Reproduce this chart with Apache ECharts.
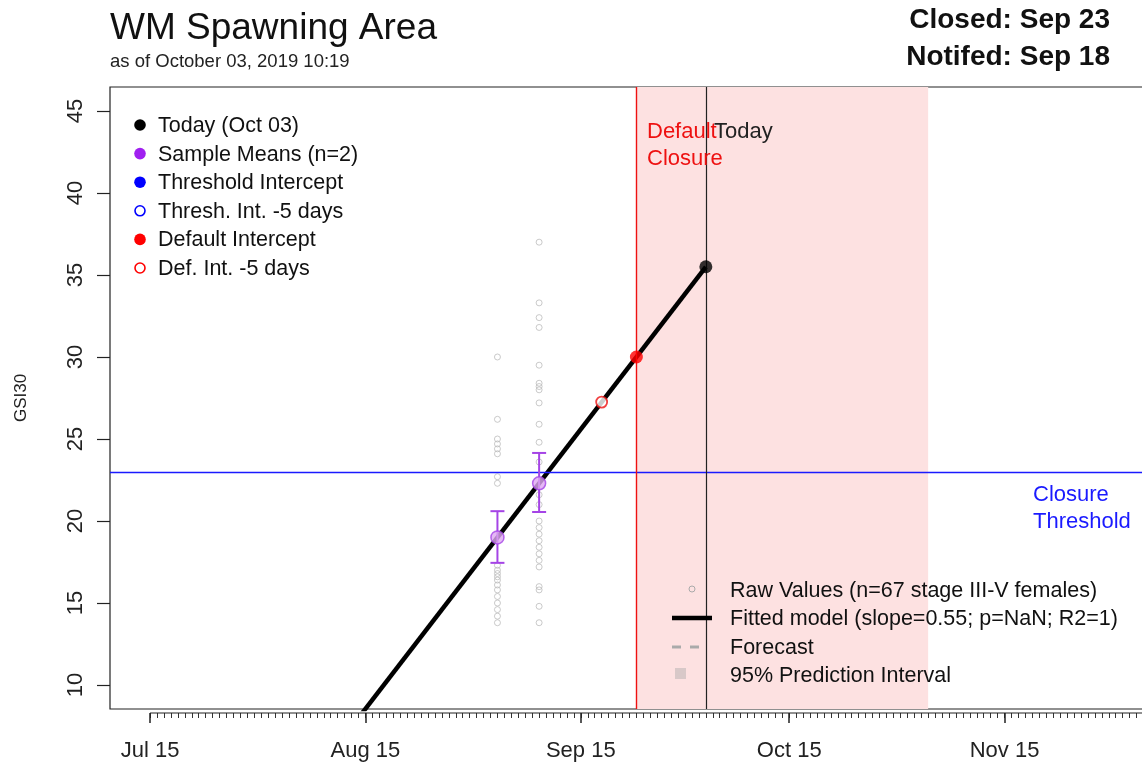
<!DOCTYPE html>
<html><head><meta charset="utf-8">
<script src="https://cdn.jsdelivr.net/npm/echarts@6/dist/echarts.min.js"></script>
<style>html,body{margin:0;padding:0;background:#fff;overflow:hidden}#c{width:1172px;height:767px}</style>
</head><body><div id="c"></div>
<script>
// ---------- data ----------
const axisBase = '2019-07-15';
const tickDates = ['2019-07-15','2019-08-15','2019-09-15','2019-10-15','2019-11-15'];
const tickLabels = ['Jul 15','Aug 15','Sep 15','Oct 15','Nov 15'];
const yTicks = [10,15,20,25,30,35,40,45];
const sampleDates = ['2019-09-03','2019-09-09'];
const sampleMeans = [19.0, 22.3];
const sampleLow = [17.45, 20.55];
const sampleHigh = [20.6, 24.15];
const rawSep03 = [30.0, 26.2, 25.0, 24.7, 24.4, 24.1, 22.7, 22.3, 17.3, 17.0, 16.8, 16.6, 16.4, 16.1, 15.8, 15.4, 15.0, 14.6, 14.2, 13.8];
const rawSep09 = [37.0, 33.3, 32.4, 31.8, 29.5, 28.4, 28.2, 28.0, 27.2, 25.9, 24.8, 23.6, 21.6, 21.0, 20.0, 19.6, 19.2, 18.8, 18.4, 18.0, 17.6, 17.2, 16.0, 15.8, 14.8, 13.8];
const fitDates = ['2019-08-01','2019-10-03'];
const fitValues = [0.85, 35.5];
const todayDate = '2019-10-03', todayValue = 35.5;
const defaultDate = '2019-09-23', defaultValue = 30.0;
const defMinus5Date = '2019-09-18', defMinus5Value = 27.25;
const thresholdValue = 23;
const bandStart = '2019-09-23', bandEnd = '2019-11-04';
const xRange = ['2019-07-09', '2019-12-09'];
const yRange = [8.54, 46.46];

// ---------- helpers ----------
function dayNum(s){
  const [y,m,d] = s.split('-').map(Number);
  const [by,bm,bd] = axisBase.split('-').map(Number);
  return (Date.UTC(y,m-1,d) - Date.UTC(by,bm-1,bd)) / 86400000;
}
const FONT = '"Liberation Sans", Arial, sans-serif';
const X_MIN = dayNum(xRange[0]) + 0.23;
const X_MAX = dayNum(xRange[1]) + 0.1;
const minorTicks = [];
for (let d = 0; d <= X_MAX; d++) minorTicks.push(d);
const majorTicks = tickDates.map(dayNum);

const rawData = rawSep03.map(v => [dayNum(sampleDates[0]), v])
  .concat(rawSep09.map(v => [dayNum(sampleDates[1]), v]));

const chart = echarts.init(document.getElementById('c'), null, {renderer:'canvas'});

const option = {
  backgroundColor: '#fff',
  animation: false,
  grid: {left: 110, top: 87, right: 0, bottom: 58, show: true, borderColor: '#222', borderWidth: 1.2,
         backgroundColor: 'transparent', outerBoundsMode: 'none'},
  xAxis: [
    {type:'value', min: X_MIN, max: X_MAX, position:'bottom', offset: 4,
     axisLine:{show:false, onZero:false}, splitLine:{show:false},
     axisTick:{show:true, customValues: minorTicks, length: 5, lineStyle:{color:'#333', width:1}},
     axisLabel:{show:false}},
    {type:'value', min: X_MIN, max: X_MAX, position:'bottom', offset: 4,
     axisLine:{show:false, onZero:false}, splitLine:{show:false},
     axisTick:{show:true, customValues: majorTicks, length: 10, lineStyle:{color:'#222', width:1.5}},
     axisLabel:{show:true, customValues: majorTicks, margin: 27, fontFamily: FONT, fontSize: 22, color:'#222',
       formatter: v => tickLabels[majorTicks.indexOf(Math.round(v))] || ''}}
  ],
  yAxis: {type:'value', min: yRange[0], max: yRange[1],
    axisLine:{show:false, onZero:false}, splitLine:{show:false},
    axisTick:{show:true, customValues: yTicks, length: 13, lineStyle:{color:'#222', width:1.2}},
    axisLabel:{show:true, customValues: yTicks, rotate: 90, margin: 23, fontFamily: FONT, fontSize: 22, color:'#222'},
    name:'GSI30', nameLocation:'middle', nameRotate: 90, nameGap: 80,
    nameTextStyle:{fontFamily: FONT, fontSize: 17, color:'#222'}},
  series: [
    {type:'line', data: [], z: 1,
     markArea:{silent:true, itemStyle:{color:'#fde1e1'},
       data:[[{xAxis: dayNum(bandStart)}, {xAxis: dayNum(bandEnd)}]]}},
    {type:'scatter', name:'raw', data: rawData, symbol:'circle', symbolSize: 6, z: 2,
     itemStyle:{color:'rgba(255,255,255,0)', borderColor:'#bdbdbd', borderWidth:1}},
    {type:'line', data: [], z: 3,
     markLine:{silent:true, symbol:'none', label:{show:false},
       data:[
         {yAxis: thresholdValue, lineStyle:{color:'#1a1aff', width:1.4, type:'solid'}},
         {xAxis: dayNum(defaultDate), lineStyle:{color:'#ee1111', width:1.4, type:'solid'}},
         {xAxis: dayNum(todayDate), lineStyle:{color:'#222', width:1.2, type:'solid'}}
       ]}},
    {type:'line', name:'fit', data: fitDates.map((d,i)=>[dayNum(d), fitValues[i]]), z: 4,
     clip: true, symbol:'none', lineStyle:{color:'#000', width:4.5}},
    {type:'custom', name:'err', z: 5, clip: true,
     data: sampleDates.map((d,i)=>[dayNum(d), sampleLow[i], sampleHigh[i]]),
     renderItem: function(params, api){
       const x = api.value(0);
       const lo = api.coord([x, api.value(1)]);
       const hi = api.coord([x, api.value(2)]);
       const hw = 7;
       const st = {stroke:'#a544e6', lineWidth: 2};
       return {type:'group', children:[
         {type:'line', shape:{x1:lo[0], y1:lo[1], x2:hi[0], y2:hi[1]}, style: st},
         {type:'line', shape:{x1:lo[0]-hw, y1:lo[1], x2:lo[0]+hw, y2:lo[1]}, style: st},
         {type:'line', shape:{x1:hi[0]-hw, y1:hi[1], x2:hi[0]+hw, y2:hi[1]}, style: st}
       ]};
     }},
    {type:'scatter', name:'means', z: 6, data: sampleDates.map((d,i)=>[dayNum(d), sampleMeans[i]]),
     symbolSize: 13, itemStyle:{color:'#dfa8f2', borderColor:'#a544e6', borderWidth:1.5}},
    {type:'scatter', name:'defm5', z: 6, data: [[dayNum(defMinus5Date), defMinus5Value]],
     symbolSize: 11, itemStyle:{color:'#fff', borderColor:'#ee1111', borderWidth:1.8}},
    {type:'scatter', name:'default', z: 6, data: [[dayNum(defaultDate), defaultValue]],
     symbolSize: 13, itemStyle:{color:'#ff0000'}},
    {type:'scatter', name:'today', z: 6, data: [[dayNum(todayDate), todayValue]],
     symbolSize: 13, itemStyle:{color:'#000'}}
  ]
};
chart.setOption(option);

// ---------- graphics (titles, legends, annotations) ----------
function txt(x, y, text, size, color, opts){
  opts = opts || {};
  return {type:'text', x: x, y: y, z: 100, silent:true,
    style:{text: text, fontFamily: FONT, fontSize: size, fill: color || '#111',
      fontWeight: opts.bold ? 'bold' : 'normal', align: opts.align || 'left',
      verticalAlign: opts.va || 'middle', lineHeight: opts.lineHeight}};
}
function dot(x, y, r, fill, stroke, lw){
  return {type:'circle', z: 100, silent:true, shape:{cx:x, cy:y, r:r},
    style:{fill: fill, stroke: stroke || null, lineWidth: lw || 0}};
}
const axisStart = chart.convertToPixel({xAxisIndex:0}, 0);
const g = [];
g.push({type:'line', z: 50, silent:true, shape:{x1: axisStart, y1: 713, x2: 1172, y2: 713}, style:{stroke:'#222', lineWidth:1.2}});
g.push(txt(110, 29, 'WM Spawning Area', 37, '#111'));
g.push(txt(110, 62, 'as of October 03, 2019 10:19', 18.5, '#222'));
g.push(txt(1110, 20, 'Closed: Sep 23', 28, '#111', {bold:true, align:'right'}));
g.push(txt(1110, 57, 'Notifed: Sep 18', 28, '#111', {bold:true, align:'right'}));
// top-left legend
const tl = [
  ['Today (Oct 03)', '#000', null],
  ['Sample Means (n=2)', '#a020f0', null],
  ['Threshold Intercept', '#0000ff', null],
  ['Thresh. Int. -5 days', '#fff', '#0000ff'],
  ['Default Intercept', '#ff0000', null],
  ['Def. Int. -5 days', '#fff', '#ff0000']
];
tl.forEach((it, i) => {
  const y = 125 + i * 28.6;
  if (it[2]) g.push(dot(140, y, 5, it[1], it[2], 1.6));
  else g.push(dot(140, y, 5.8, it[1]));
  g.push(txt(158, y + 1, it[0], 21.5, '#111'));
});
// bottom-right legend
g.push(dot(692, 589, 3, 'rgba(255,255,255,0)', '#aaa', 1));
g.push(txt(730, 591, 'Raw Values (n=67 stage III-V females)', 21.5, '#111'));
g.push({type:'line', z:100, silent:true, shape:{x1:672, y1:618, x2:712, y2:618}, style:{stroke:'#000', lineWidth:4.5}});
g.push(txt(730, 619, 'Fitted model (slope=0.55; p=NaN; R2=1)', 21.5, '#111'));
g.push({type:'line', z:100, silent:true, shape:{x1:672, y1:647, x2:681, y2:647}, style:{stroke:'#aaa', lineWidth:3}});
g.push({type:'line', z:100, silent:true, shape:{x1:690, y1:647, x2:699, y2:647}, style:{stroke:'#aaa', lineWidth:3}});
g.push(txt(730, 648, 'Forecast', 21.5, '#111'));
g.push({type:'rect', z:100, silent:true, shape:{x:675, y:668, width:11, height:11}, style:{fill:'#d8c8c8'}});
g.push(txt(730, 676, '95% Prediction Interval', 21.5, '#111'));
// annotations
g.push(txt(647, 118, 'Default\nClosure', 22, '#ee1111', {lineHeight: 27, va:'top'}));
g.push(txt(714, 132, 'Today', 22, '#222'));
g.push(txt(1033, 481, 'Closure\nThreshold', 22, '#1a1aff', {lineHeight: 27, va:'top'}));
chart.setOption({graphic: g});
</script>
</body></html>
